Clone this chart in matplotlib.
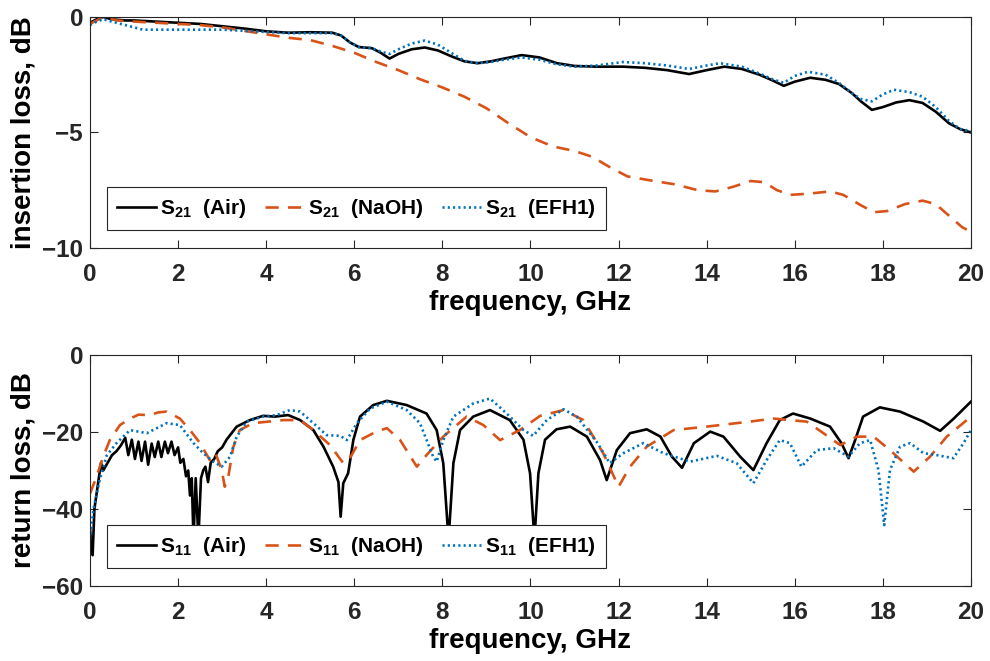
import matplotlib
matplotlib.use("Agg")
import matplotlib.pyplot as plt

plt.rcParams["font.family"] = ["Liberation Sans", "DejaVu Sans"]
plt.rcParams["font.weight"] = "bold"
plt.rcParams["axes.labelweight"] = "bold"
plt.rcParams["mathtext.fontset"] = "custom"
plt.rcParams["mathtext.rm"] = "Liberation Sans:bold"
plt.rcParams["mathtext.it"] = "Liberation Sans:bold"
plt.rcParams["mathtext.bf"] = "Liberation Sans:bold"
plt.rcParams["mathtext.default"] = "rm"

# insertion loss (S21), dB
f21_air = [0, 0.15, 0.3, 0.5, 0.8, 1.0, 1.5, 2.0, 2.5, 3.0, 3.5, 4.0, 4.5, 5.0, 5.5, 5.7, 5.9,
           6.1, 6.4, 6.6, 6.8, 7.0, 7.3, 7.6, 7.9, 8.2, 8.5, 8.8, 9.1, 9.4, 9.8, 10.2, 10.6,
           11.0, 11.5, 12.1, 12.6, 13.1, 13.6, 14.0, 14.4, 14.8, 15.2, 15.5, 15.75, 16.0,
           16.35, 16.7, 17.0, 17.3, 17.5, 17.75, 18.0, 18.3, 18.6, 18.9, 19.2, 19.5, 19.75, 20.0]
s21_air = [-0.25, -0.1, 0.0, -0.1, -0.15, -0.15, -0.2, -0.25, -0.3, -0.4, -0.5, -0.62, -0.68,
           -0.66, -0.68, -0.8, -1.1, -1.3, -1.35, -1.55, -1.8, -1.6, -1.4, -1.32, -1.45, -1.7,
           -1.92, -2.0, -1.92, -1.8, -1.65, -1.75, -2.0, -2.12, -2.15, -2.15, -2.2, -2.3, -2.47,
           -2.3, -2.15, -2.25, -2.5, -2.75, -2.98, -2.8, -2.63, -2.72, -2.9, -3.3, -3.65, -4.02,
           -3.9, -3.7, -3.6, -3.72, -4.1, -4.6, -4.85, -5.0]

f21_naoh = [0, 0.15, 0.3, 0.6, 1.0, 1.5, 2.0, 2.5, 3.0, 3.5, 4.0, 4.5, 5.0, 5.5, 6.0, 6.5, 7.0,
            7.5, 8.0, 8.5, 9.0, 9.5, 10.0, 10.5, 11.0, 11.4, 11.8, 12.2, 12.8, 13.3, 13.8, 14.2,
            14.6, 15.0, 15.3, 15.6, 15.9, 16.3, 16.8, 17.1, 17.5, 17.8, 18.1, 18.5, 18.9, 19.2,
            19.5, 19.8, 20.0]
s21_naoh = [-0.3, -0.15, 0.0, -0.15, -0.2, -0.25, -0.3, -0.35, -0.45, -0.6, -0.75, -0.9, -1.0,
            -1.25, -1.55, -1.95, -2.3, -2.7, -3.05, -3.45, -3.95, -4.6, -5.2, -5.6, -5.8, -6.05,
            -6.5, -6.9, -7.1, -7.25, -7.5, -7.55, -7.35, -7.1, -7.15, -7.5, -7.7, -7.65, -7.55,
            -7.7, -8.15, -8.45, -8.4, -8.1, -7.95, -8.1, -8.6, -9.1, -9.3]

f21_efh1 = [0, 0.15, 0.3, 0.5, 0.8, 1.2, 1.6, 2.0, 2.5, 3.0, 3.5, 4.0, 4.5, 5.0, 5.5, 5.7, 5.9,
            6.1, 6.4, 6.6, 6.8, 7.0, 7.3, 7.6, 7.9, 8.2, 8.5, 8.8, 9.1, 9.4, 9.8, 10.2, 10.6,
            11.0, 11.5, 12.1, 12.6, 13.1, 13.6, 14.0, 14.3, 14.8, 15.2, 15.5, 15.75, 16.0, 16.3,
            16.7, 17.0, 17.3, 17.5, 17.75, 18.0, 18.25, 18.6, 18.9, 19.2, 19.5, 19.75, 20.0]
s21_efh1 = [-0.35, -0.2, -0.1, -0.2, -0.35, -0.55, -0.55, -0.55, -0.55, -0.55, -0.6, -0.65,
            -0.7, -0.7, -0.7, -0.8, -1.1, -1.3, -1.35, -1.5, -1.6, -1.4, -1.15, -1.02, -1.2,
            -1.55, -1.9, -2.0, -1.95, -1.85, -1.75, -1.85, -2.05, -2.15, -2.1, -1.95, -2.0,
            -2.1, -2.25, -2.1, -2.0, -2.15, -2.45, -2.7, -2.85, -2.55, -2.37, -2.5, -2.85, -3.3,
            -3.55, -3.65, -3.35, -3.15, -3.25, -3.45, -3.9, -4.5, -4.85, -4.95]

# return loss (S11), dB
f11_air = [0.0, 0.03, 0.06, 0.1, 0.15, 0.2, 0.25, 0.3, 0.4, 0.5, 0.6, 0.7, 0.8, 0.87, 0.95,
           1.02, 1.10, 1.17, 1.25, 1.32, 1.40, 1.47, 1.55, 1.62, 1.70, 1.77, 1.85, 1.92, 2.0,
           2.05, 2.12, 2.18, 2.23, 2.27, 2.31, 2.35, 2.40, 2.46, 2.52, 2.57, 2.62, 2.68, 2.74,
           2.82, 2.9, 3.0, 3.1, 3.33, 3.63, 3.93, 4.2, 4.5, 4.77, 5.07, 5.3, 5.52, 5.64, 5.69,
           5.75, 5.86, 5.98, 6.13, 6.43, 6.74, 7.19, 7.64, 7.87, 8.02, 8.14, 8.25, 8.4, 8.7,
           9.08, 9.53, 9.84, 9.99, 10.09, 10.18, 10.33, 10.59, 10.9, 11.28, 11.58, 11.73, 11.96,
           12.26, 12.64, 12.95, 13.21, 13.44, 13.71, 14.08, 14.38, 14.76, 15.06, 15.36, 15.66,
           15.96, 16.35, 16.8, 17.06, 17.22, 17.37, 17.55, 17.93, 18.39, 18.92, 19.3, 19.61, 20.0]
s11_air = [-45, -50, -52, -40, -36, -32, -28, -30, -28, -26, -25, -23.5, -21.5, -26, -22,
           -27, -22.5, -27.5, -22.5, -28.5, -23, -26.5, -22.5, -26.5, -22.5, -25.5, -22.5, -26,
           -24, -28, -27, -31.5, -30, -36.5, -32, -48, -32, -48, -32, -30, -29, -33, -28, -27,
           -25, -24, -22, -18.6, -16.9, -15.8, -16, -15.6, -16.9, -19.5, -23.8, -29, -33, -42,
           -33.3, -30.7, -22, -16, -13, -11.9, -13, -15.2, -19.5, -28.1, -48, -28.1, -19.5, -16,
           -14.3, -16.9, -22, -30.7, -48, -30.7, -22, -19.3, -18.6, -21.2, -27.3, -32.5, -24.7,
           -20.3, -19.3, -21.2, -26.4, -29.3, -22.9, -19.9, -21.2, -26.4, -29.9, -22.9, -16.9,
           -15.2, -16.5, -18.6, -22.9, -26.8, -22.1, -16, -13.6, -14.7, -17.3, -19.7, -16.5, -12.1]

f11_naoh = [0.0, 0.15, 0.3, 0.45, 0.68, 0.91, 1.1, 1.36, 1.55, 1.74, 2.04, 2.27, 2.5, 2.72,
            2.85, 2.99, 3.06, 3.14, 3.25, 3.4, 3.7, 4.4, 4.77, 5.07, 5.45, 5.75, 5.9, 6.13, 6.5,
            6.74, 7.04, 7.42, 7.64, 8.02, 8.55, 8.93, 9.31, 9.76, 10.22, 10.75, 11.2, 11.65,
            12.0, 12.26, 12.64, 13.25, 14.0, 14.98, 15.51, 16.27, 16.65, 17.03, 17.41, 17.79,
            18.16, 18.7, 19.07, 19.45, 20.0]
s11_naoh = [-36, -31.6, -26.4, -22.1, -18.2, -16.5, -15.5, -15.6, -14.9, -14.7, -16.5, -19.5,
            -22.9, -27.3, -25.5, -29.9, -34.2, -31.6, -24, -19.5, -17.7, -16.9, -16.9, -19.5,
            -23.4, -28.1, -26.8, -22.1, -19.9, -19.0, -22.1, -29.0, -26, -21.2, -16, -18.2,
            -22.1, -19.5, -15.8, -14.3, -16.9, -25.5, -34.2, -29, -23.8, -19.5, -18.6, -17.3,
            -16.5, -17.3, -20.3, -23.4, -21.2, -21.2, -24.7, -30.3, -26.4, -21.2, -16]

f11_efh1 = [0.0, 0.08, 0.23, 0.38, 0.6, 0.91, 1.29, 1.74, 2.04, 2.35, 2.57, 2.8, 2.99, 3.18,
            3.33, 3.56, 3.93, 4.24, 4.54, 4.77, 5.07, 5.37, 5.68, 5.83, 6.06, 6.36, 6.74, 7.19,
            7.49, 7.79, 7.87, 8.02, 8.25, 8.7, 9.08, 9.46, 9.84, 10.06, 10.37, 10.75, 11.05,
            11.5, 11.8, 12.11, 12.56, 13.02, 13.62, 14.23, 14.68, 15.06, 15.36, 15.66, 15.89,
            16.15, 16.5, 16.88, 17.22, 17.48, 17.71, 17.9, 18.03, 18.16, 18.39, 18.62, 18.92,
            19.22, 19.6, 19.83, 20.0]
s11_efh1 = [-47.9, -40, -32, -26.1, -22.9, -19.5, -20.3, -17.7, -18.2, -22.9, -25.5, -27.7,
            -29, -26.4, -21.2, -17.3, -16, -15.6, -14.3, -14.7, -17.7, -20.8, -21, -22.1, -17.7,
            -13.9, -12.1, -14.3, -17.7, -26.4, -27.7, -22.1, -16, -12.6, -11.3, -15.2, -19.5,
            -21, -16.9, -14.1, -16, -22.5, -28.1, -25.5, -22.9, -25.5, -27.7, -26.2, -28.1,
            -33.3, -27.3, -22.1, -22.9, -29, -24.7, -24.2, -26.4, -22.9, -22.1, -29.9, -44.2,
            -29.9, -23.8, -22.9, -25.5, -26, -26.8, -22.9, -19.5]

x_ticks = list(range(0, 21, 2))
top_yticks = [-10, -5, 0]
bottom_yticks = [-60, -40, -20, 0]

c_air = "black"
c_naoh = "#D95319"
c_efh1 = "#0072BD"

fig = plt.figure(figsize=(9.9, 6.61), dpi=100)
ax1 = fig.add_axes([0.0909, 0.6248, 0.8899, 0.3495])
ax2 = fig.add_axes([0.0909, 0.1135, 0.8899, 0.3494])

ax1.plot(f21_air, s21_air, color=c_air, lw=1.9, label=r"S$_{21}$  (Air)")
ax1.plot(f21_naoh, s21_naoh, color=c_naoh, lw=1.9, dashes=(5, 3.5), label=r"S$_{21}$  (NaOH)")
ax1.plot(f21_efh1, s21_efh1, color=c_efh1, lw=1.9, dashes=(0.8, 1.2), label=r"S$_{21}$  (EFH1)")
ax1.set_ylim(-10, 0)
ax1.set_yticks(top_yticks)
ax1.set_ylabel("insertion loss, dB", fontsize=20, labelpad=4)

ax2.plot(f11_air, s11_air, color=c_air, lw=1.9, label=r"S$_{11}$  (Air)")
ax2.plot(f11_naoh, s11_naoh, color=c_naoh, lw=1.9, dashes=(5, 3.5), label=r"S$_{11}$  (NaOH)")
ax2.plot(f11_efh1, s11_efh1, color=c_efh1, lw=1.9, dashes=(0.8, 1.2), label=r"S$_{11}$  (EFH1)")
ax2.set_ylim(-60, 0)
ax2.set_yticks(bottom_yticks)
ax2.set_ylabel("return loss, dB", fontsize=20, labelpad=4)

for ax in (ax1, ax2):
    ax.set_xlim(0, 20)
    ax.set_xticks(x_ticks)
    ax.set_xlabel("frequency, GHz", fontsize=20, labelpad=3)
    ax.tick_params(direction="in", top=True, right=True, length=6, width=0.8,
                   labelsize=17.5, colors="#262626")
    ax.tick_params(axis="x", pad=11)
    ax.tick_params(axis="y", pad=5)
    for sp in ax.spines.values():
        sp.set_color("#262626")
        sp.set_linewidth(0.8)
    leg = ax.legend(loc="lower left", bbox_to_anchor=(0.019, 0.076), ncol=3, fontsize=15,
                    handlelength=1.85, handletextpad=0.2, columnspacing=0.9,
                    borderpad=0.5, borderaxespad=0, fancybox=False, framealpha=1,
                    edgecolor="#262626")
    leg.get_frame().set_linewidth(0.8)

fig.savefig("out.png", dpi=100)
